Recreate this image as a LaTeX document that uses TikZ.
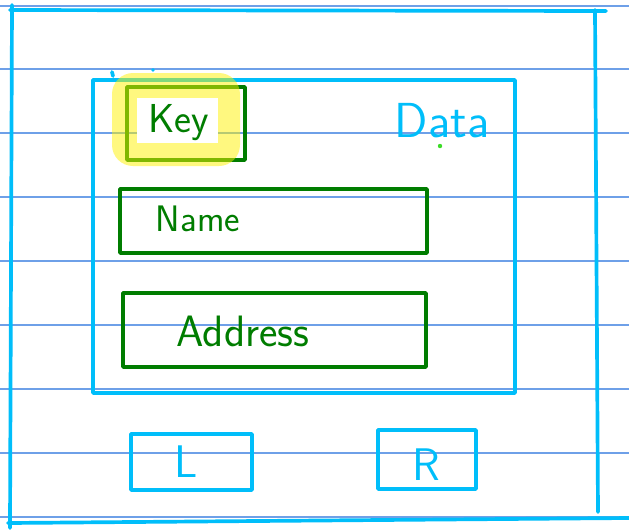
\documentclass[tikz,border=0pt]{standalone}
\definecolor{penblue}{RGB}{0,190,250}
\definecolor{pengreen}{RGB}{0,125,0}
\definecolor{ruleblue}{RGB}{110,160,232}
\definecolor{dotgreen}{RGB}{60,220,40}

\begin{document}
\begin{tikzpicture}[x=0.02cm,y=-0.02cm,
  bluepen/.style={penblue,line width=2.1pt,line cap=round,line join=round},
  greenpen/.style={pengreen,line width=2pt,line join=round},
  bluetext/.style={text=penblue,font=\sffamily\fontsize{#1}{#1}\selectfont},
  greentext/.style={text=pengreen,font=\sffamily\fontsize{#1}{#1}\selectfont}]

\useasboundingbox (0,0) rectangle (629,529);
\fill[white] (0,0) rectangle (629,529);

% Ruled paper
\foreach \y in {6,69,133,197,261,325,389,453,517}
{
\draw[ruleblue,line width=0.8pt] (0,\y) -- (629,\y);
}

% Outer frame
\draw[bluepen] (12,5) -- (10,528);
\draw[bluepen] (10,10) -- (606,11);
\draw[bluepen] (595,10) -- (598,512);
\draw[bluepen] (8,523) -- (629,518);

% Data
\draw[bluepen] (93,80) rectangle (515,393);
\draw[bluepen] (112,72) -- (113,76);
\fill[penblue] (153,70) circle (1.8);

\node[bluetext=28] (data) at (442,121) {Data};
\fill[dotgreen] (440,146) circle (2.2);

% Key
\draw[greenpen] (127,87) rectangle (245,160);
\fill[yellow,opacity=0.5,rounded corners=12] (112,73) rectangle (240,166);
\fill[white] (137,98) rectangle (218,143);

\node[greentext=23] (key) at (179,123) {Key};

% Name
\draw[greenpen] (120,189) rectangle (427,253);

\node[greentext=21] (name) at (198,219) {Name};

% Address
\draw[greenpen] (123,293) rectangle (426,367);

\node[greentext=25] (address) at (243,331) {Address};

% L
\draw[bluepen] (131,434) rectangle (252,490);

\node[bluetext=26] (left) at (186,462) {L};

% R
\draw[bluepen] (378,430) rectangle (476,489);

\node[bluetext=26] (right) at (426,465) {R};

\end{tikzpicture}
\end{document}
